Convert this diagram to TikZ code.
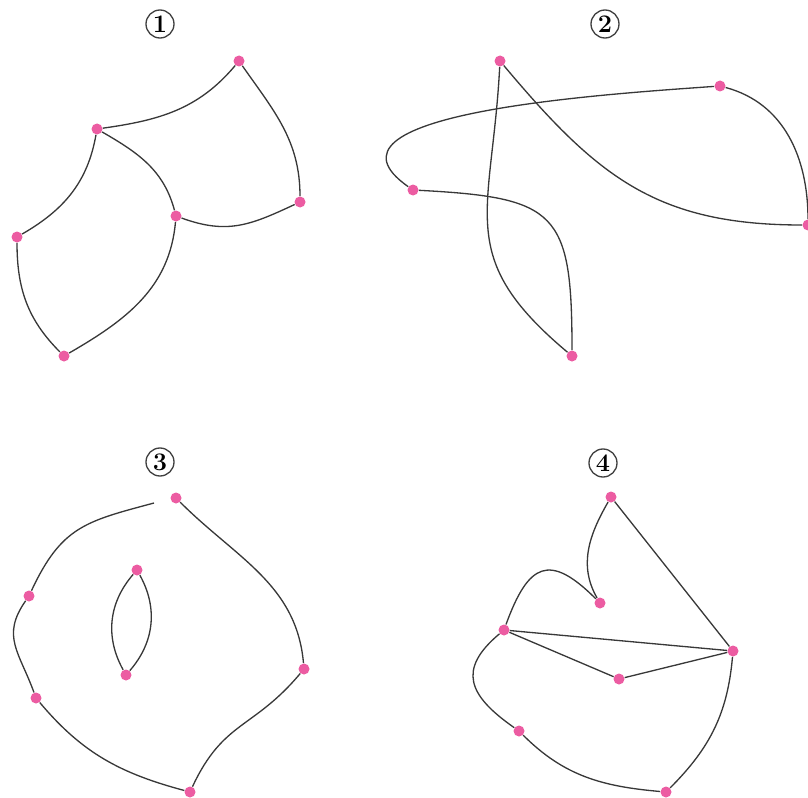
\documentclass[tikz,border=0pt]{standalone}
\usepackage{tikz}
\usetikzlibrary{positioning}
\definecolor{dotpink}{RGB}{236,92,162}
\tikzset{
  vtx/.style={circle, fill=dotpink, inner sep=0pt, minimum size=2.2mm},
  curveline/.style={draw=black!78, line width=0.75pt},
  numlbl/.style={circle, draw=black!75, line width=0.75pt, inner sep=0.8pt,
                 minimum size=5.6mm, font=\Large\bfseries}
}
\begin{document}
\begin{tikzpicture}[x=0.2mm, y=0.2mm]
  \useasboundingbox (0,0) rectangle (808,797);

  \node[numlbl] (n1) at (160,773) {1};
  \node[vtx] (g1a) at (239,736) {};
  \node[vtx] (g1b) at (97,668) {};
  \node[vtx] (g1c) at (176,581) {};
  \node[vtx] (g1d) at (300,595) {};
  \node[vtx] (g1e) at (17,560) {};
  \node[vtx] (g1f) at (64,441) {};
  \draw[curveline] (g1b) to[out=8,in=230] (g1a);
  \draw[curveline] (g1a) to[out=-55,in=90] (g1d);
  \draw[curveline] (g1b) to[out=-30,in=105] (g1c);
  \draw[curveline] (g1c) to[out=-20,in=205,looseness=1.1] (g1d);
  \draw[curveline] (g1b) to[out=-100,in=30] (g1e);
  \draw[curveline] (g1e) to[out=-90,in=135] (g1f);
  \draw[curveline] (g1c) to[out=-95,in=30] (g1f);

  \node[numlbl] (n2) at (605,773) {2};
  \node[vtx] (g2p) at (500,736) {};
  \node[vtx] (g2q) at (720,711) {};
  \node[vtx] (g2r) at (413,607) {};
  \node[vtx] (g2s) at (808,572) {};
  \node[vtx] (g2t) at (572,441) {};
  \draw[curveline] (g2p) to[out=-93,in=140,looseness=1.3] (g2t);
  \draw[curveline] (g2p) to[out=-50,in=180,looseness=1.1] (g2s);
  \draw[curveline] (g2q) to[out=-15,in=90] (g2s);
  \draw[curveline] (g2q) to[out=184,in=145] (g2r);
  \draw[curveline] (g2r) to[out=-3,in=90,looseness=1.6] (g2t);

  \node[numlbl] (n3) at (160,335) {3};
  \node[vtx] (g3u) at (176,299) {};
  \node[vtx] (g3v) at (29,201) {};
  \node[vtx] (g3w) at (36,99) {};
  \node[vtx] (g3x) at (190,5) {};
  \node[vtx] (g3y) at (304,128) {};
  \node[vtx] (g3i) at (137,227) {};
  \node[vtx] (g3j) at (126,122) {};
  \coordinate (g3gap) at (154,294);
  \draw[curveline] (g3v) to[out=65,in=195,looseness=1.2] (g3gap);
  \draw[curveline] (g3u) to[out=-45,in=95] (g3y);
  \draw[curveline] (g3y) to[out=-130,in=65,looseness=1.2] (g3x);
  \draw[curveline] (g3x) to[out=165,in=-50] (g3w);
  \draw[curveline] (g3w) to[out=110,in=235,looseness=1.2] (g3v);
  \draw[curveline] (g3i) to[bend right=35] (g3j);
  \draw[curveline] (g3i) to[bend left=35] (g3j);

  \node[numlbl] (n4) at (603,334) {4};
  \node[vtx] (g4z) at (611,300) {};
  \node[vtx] (g4m) at (600,194) {};
  \node[vtx] (g4l) at (504,167) {};
  \node[vtx] (g4k) at (733,146) {};
  \node[vtx] (g4n) at (619,118) {};
  \node[vtx] (g4j) at (519,66) {};
  \node[vtx] (g4h) at (666,5) {};
  \draw[curveline] (g4z) to[out=-120,in=120] (g4m);
  \draw[curveline] (g4m) to[out=135,in=70,looseness=1.8] (g4l);
  \draw[curveline] (g4z) -- (g4k);
  \draw[curveline] (g4l) -- (g4k);
  \draw[curveline] (g4l) -- (g4n);
  \draw[curveline] (g4n) -- (g4k);
  \draw[curveline] (g4l) to[out=-140,in=145,looseness=1.5] (g4j);
  \draw[curveline] (g4j) to[out=-45,in=175] (g4h);
  \draw[curveline] (g4h) to[out=45,in=-95] (g4k);
\end{tikzpicture}
\end{document}
